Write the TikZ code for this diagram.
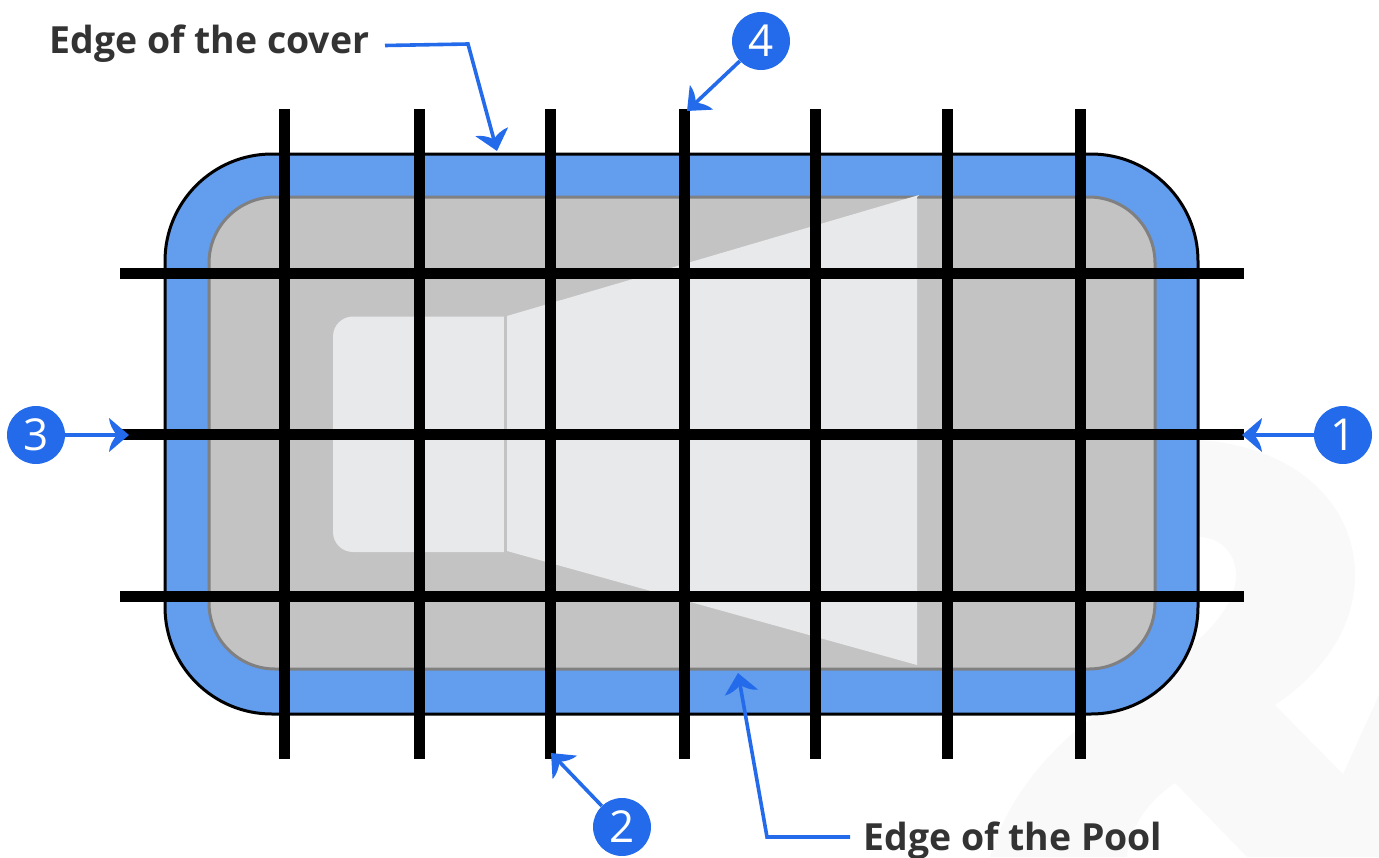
\documentclass[tikz,border=0pt]{standalone}
\usepackage{fontspec}
\setmainfont{Open Sans}
\usetikzlibrary{arrows.meta}
\definecolor{accent}{HTML}{246BEB}
\definecolor{coverblue}{HTML}{639DEE}
\definecolor{poolgray}{HTML}{C3C3C3}
\definecolor{poolline}{HTML}{808080}
\definecolor{lightfloor}{HTML}{E8E9EB}
\definecolor{wmgray}{HTML}{F9F9F9}
\definecolor{labeltext}{HTML}{333333}
\pgfdeclarearrow{
  name=Barb,
  setup code={
    \pgfarrowssettipend{0pt}
    \pgfarrowssetbackend{-20pt}
    \pgfarrowssetlineend{-10pt}
    \pgfarrowssetvisualbackend{-12pt}
  },
  drawing code={
    \pgfpathmoveto{\pgfqpoint{0pt}{0pt}}
    \pgfpathcurveto{\pgfqpoint{-6pt}{5pt}}{\pgfqpoint{-14pt}{12pt}}{\pgfqpoint{-20pt}{17pt}}
    \pgfpathcurveto{\pgfqpoint{-19.5pt}{11pt}}{\pgfqpoint{-16pt}{4pt}}{\pgfqpoint{-12pt}{0pt}}
    \pgfpathcurveto{\pgfqpoint{-16pt}{-4pt}}{\pgfqpoint{-19.5pt}{-11pt}}{\pgfqpoint{-20pt}{-17pt}}
    \pgfpathcurveto{\pgfqpoint{-14pt}{-12pt}}{\pgfqpoint{-6pt}{-5pt}}{\pgfqpoint{0pt}{0pt}}
    \pgfpathclose
    \pgfusepathqfill
  }
}
\tikzset{
  badge/.style={circle,fill=accent,text=white,minimum size=58pt,inner sep=0pt,
    font=\fontsize{44}{48}\selectfont},
  calloutlabel/.style={text=labeltext,inner sep=0pt,
    font=\fontsize{37.4}{42}\selectfont\bfseries},
  pointer/.style={draw=accent,line width=3.6pt,-{Barb[]},line join=miter},
  gridbar/.style={line width=11pt,black,line cap=butt}
}
\begin{document}
\begin{tikzpicture}[x=1pt,y=-1pt]
\useasboundingbox (0,0) rectangle (1379,857);
% faint watermark
\fill[wmgray] (990,857) .. controls (1005,805) and (1040,760) .. (1080,727)
  -- (1198,640) .. controls (1215,625) and (1236,600) .. (1236,575)
  .. controls (1236,555) and (1222,537) .. (1198,537) -- (1198,440)
  .. controls (1290,445) and (1355,500) .. (1355,575)
  .. controls (1355,630) and (1320,675) .. (1275,705)
  -- (1343,774) -- (1379,695) -- (1379,857) -- (1247,857) -- (1175,783)
  .. controls (1150,800) and (1130,825) .. (1127,857) -- cycle;
% cover and pool
\draw[fill=coverblue,draw=black,line width=3pt,rounded corners=107pt]
  (165,154) rectangle (1198,714);
\draw[fill=poolgray,draw=poolline,line width=3pt,rounded corners=66pt]
  (209,197) rectangle (1155,669);
% pool floor
\fill[lightfloor] (504,316.5) -- (353,316.5) arc[start angle=-90,end angle=-180,radius=20]
  -- (333,532) arc[start angle=180,end angle=90,radius=20] -- (504,552) -- cycle;
\fill[lightfloor] (507,316) -- (919,195) -- (917,197) -- (917,665) -- (507,551) -- cycle;
\fill[poolgray] (504,316.5) rectangle (507,552);
% grid
\foreach \gx in {284.5,419,550.5,684,815.5,947,1080.5}
  \draw[gridbar] (\gx,109) -- (\gx,759);
\foreach \gy in {273,434.5,596.5}
  \draw[gridbar] (120,\gy) -- (1244,\gy);
% badges and labels
\node[badge] (n1) at (1343,435) {1};
\node[badge] (n2) at (622,827) {2};
\node[badge] (n3) at (36,435) {3};
\node[badge] (n4) at (761,41) {4};
\node[calloutlabel] (lcover) at (209.5,44) {Edge of the cover};
\node[calloutlabel] (lpool) at (1013,841) {Edge of the Pool};
% connector ends
\coordinate (t1) at (1242,435);
\coordinate (t2) at (551,753);
\coordinate (t3) at (129,435);
\coordinate (t4) at (687,111);
\coordinate (tcover) at (497,151);
\coordinate (tpool) at (738,673);
\coordinate (bcover) at (468,44);
\coordinate (bpool) at (767,837);
\coordinate (scover) at (385,45.5);
\coordinate (spool) at (850,837);
\draw[pointer] (n1) -- (t1);
\draw[pointer] (n2) -- (t2);
\draw[pointer] (n3) -- (t3);
\draw[pointer] (n4) -- (t4);
\draw[pointer] (scover) -- (bcover) -- (tcover);
\draw[pointer] (spool) -- (bpool) -- (tpool);
\end{tikzpicture}
\end{document}
